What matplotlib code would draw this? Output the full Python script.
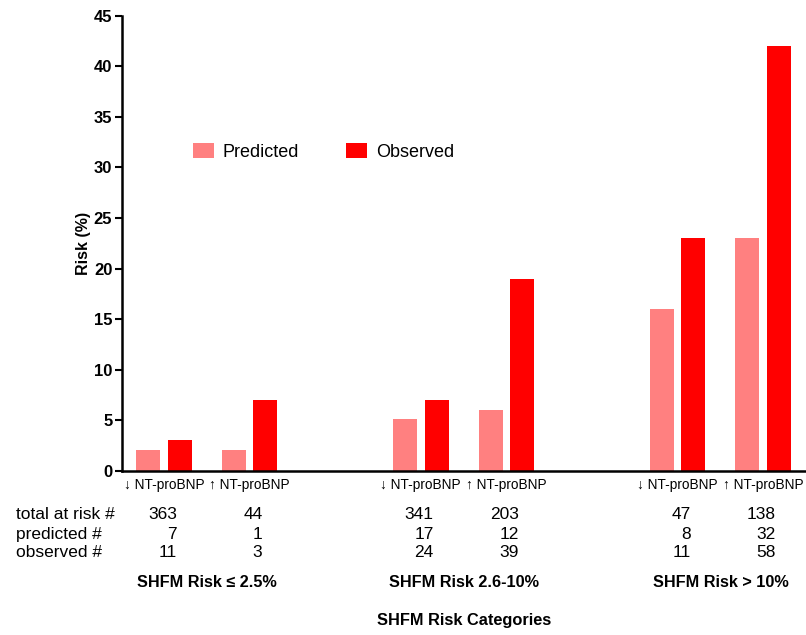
import matplotlib
matplotlib.use("Agg")
import matplotlib.pyplot as plt
import numpy as np

plt.rcParams['font.family'] = ['Liberation Sans', 'DejaVu Sans']

# data
tick_labels = ['↓ NT-proBNP', '↑ NT-proBNP'] * 3
predicted = [2.1, 2.1, 5.1, 6.0, 16.0, 23.0]
observed = [3.1, 7.0, 7.0, 19.0, 23.0, 42.0]
total_at_risk = ['363', '44', '341', '203', '47', '138']
predicted_n = ['7', '1', '17', '12', '8', '32']
observed_n = ['11', '3', '24', '39', '11', '58']
groups = ['SHFM Risk \u2264 2.5%', 'SHFM Risk 2.6-10%', 'SHFM Risk > 10%']
row_names = ['total at risk #', 'predicted #', 'observed #']

x = np.array([0, 1, 3, 4, 6, 7])
w = 0.28

fig = plt.figure(figsize=(8.06, 6.35), dpi=100)
ax = fig.add_axes([0.1514, 0.2583, 0.8486, 0.717])

ax.bar(x - 0.185, predicted, w, color='#FF8080', label='Predicted')
ax.bar(x + 0.185, observed, w, color='#FF0000', label='Observed')

ax.set_xlim(-0.49, 7.5)
ax.set_ylim(0, 45)
ax.set_yticks(range(0, 46, 5))
ax.set_xticks(x)
ax.set_xticklabels(tick_labels, fontsize=9.8)
ax.tick_params(axis='x', length=0, pad=5)
ax.tick_params(axis='y', length=5, width=1.5, labelsize=12, pad=2)
for t in ax.get_yticklabels():
    t.set_fontweight('bold')
ax.set_ylabel('Risk (%)', fontsize=11.5, fontweight='bold', labelpad=2)

for s in ['top', 'right']:
    ax.spines[s].set_visible(False)
ax.spines['left'].set_linewidth(1.8)
ax.spines['bottom'].set_linewidth(1.8)

ax.legend(loc='upper left', bbox_to_anchor=(0.08, 0.757), ncol=2, frameon=False,
          fontsize=13, handlelength=1.15, handleheight=0.95, handletextpad=0.5,
          columnspacing=2.6)

# table under the bars
tr = ax.get_xaxis_transform()
rows = [total_at_risk, predicted_n, observed_n]
row_y = [-0.096, -0.140, -0.180]
for vals, yy, name in zip(rows, row_y, row_names):
    fig.text(0.02, ax.transAxes.transform((0, yy))[1] / fig.dpi / fig.get_figheight(),
             name, fontsize=12.5, va='center', ha='left')
    for xi, v in zip(x, vals):
        ax.text(xi + 0.15, yy, v, transform=tr, fontsize=12.5, ha='right', va='center')

for i, g in enumerate(groups):
    ax.text(x[2 * i] + 0.5, -0.244, g, transform=tr, fontsize=11.7, fontweight='bold',
            ha='center', va='center')

ax.text(0.5, -0.328, 'SHFM Risk Categories', transform=ax.transAxes, fontsize=11.8,
        fontweight='bold', ha='center', va='center')

fig.savefig('out.png', dpi=100)
